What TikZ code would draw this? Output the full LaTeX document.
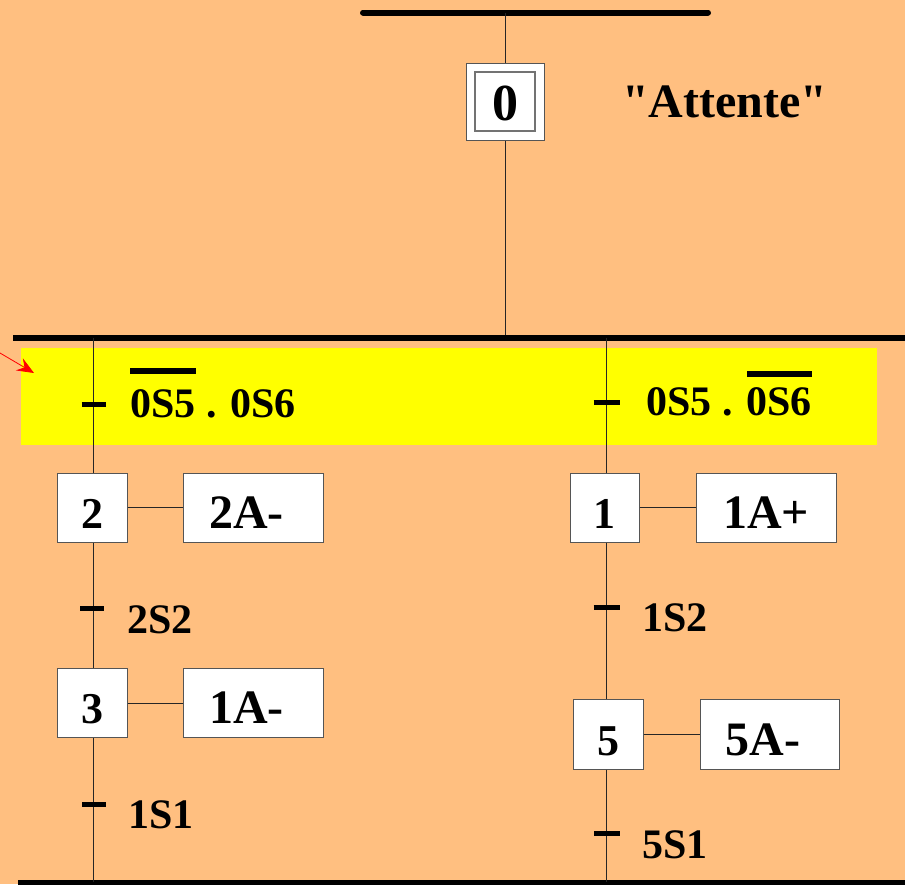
\documentclass[tikz,border=0pt]{standalone}
\usepackage{fontspec}
\setmainfont{Liberation Serif}
\usetikzlibrary{arrows.meta}
\definecolor{bg}{HTML}{FFBF80}
\definecolor{yel}{RGB}{255,255,0}
\definecolor{boxline}{HTML}{555555}
\newcommand\ovbar[2]{\setbox0\hbox{#2}\rlap{\raisebox{#1}{\rule{\wd0}{6pt}}}\box0\relax}
\newcommand\dq{\XeTeXglyph\XeTeXcharglyph"22\relax}
\tikzset{
  stepbox/.style={draw=boxline, fill=white, line width=1pt, inner sep=0pt,
    minimum width=70pt, minimum height=69pt, text height=55pt, text depth=14pt,
    font=\fontsize{44}{48}\selectfont\bfseries},
  actbox/.style={stepbox, minimum width=140pt, font=\fontsize{48}{52}\selectfont\bfseries},
  cond/.style={anchor=base west, inner sep=0pt, font=\fontsize{42}{46}\selectfont\bfseries},
  tickmark/.style={line width=5pt},
  thickbar/.style={line width=6pt},
  link/.style={line width=1pt, draw=black!85},
}
\begin{document}
\begin{tikzpicture}[x=1pt,y=-1pt]
\useasboundingbox (0,0) rectangle (905,884);
\fill[bg] (0,0) rectangle (905,884);
\fill[yel] (21,348) rectangle (877,445);

% bars
\coordinate (tb1) at (363,12.5);
\coordinate (tb2) at (708,12.5);
\coordinate (tbc) at (505,12.5);
\coordinate (mb1) at (13,337.5);
\coordinate (mb2) at (905,337.5);
\coordinate (c0) at (505,337.5);
\coordinate (bb1) at (18,882);
\coordinate (bb2) at (905,882);
\coordinate (lt) at (93,337.5);
\coordinate (lb) at (93,882);
\coordinate (rt) at (606,337.5);
\coordinate (rb) at (606,882);

% step 0
\node[stepbox, minimum width=78pt, minimum height=77pt, text height=0pt, text depth=0pt] (s0) at (505,101.5) {};
\node[stepbox, draw=black!55, line width=1.2pt, minimum width=60pt, minimum height=59pt,
  text height=48pt, text depth=11pt, font=\fontsize{52}{56}\selectfont\bfseries] (s0i) at (505,101.5) {0};
\node[anchor=base west, inner sep=0pt, font=\fontsize{48}{52}\selectfont\bfseries] (att) at (622,117) {\dq Attente\dq};

% left branch
\node[stepbox] (s2) at (92,507.5) {2};
\node[actbox] (a2) at (253,507.5) {2A-\kern13pt};
\node[stepbox] (s3) at (92,703) {3};
\node[actbox] (a3) at (253,703) {1A-\kern13pt};

% right branch
\node[stepbox, minimum width=69pt] (s1) at (604.5,507.5) {1};
\node[actbox] (a1) at (766,507.5) {1A+};
\node[stepbox, minimum height=70pt, text height=56pt] (s5) at (608,734) {5};
\node[actbox, minimum width=139pt, minimum height=70pt, text height=56pt] (a5) at (769.5,734) {5A-\kern13pt};

% connectors
\draw[thickbar, line cap=round] (tb1) -- (tb2);
\draw[link] (tbc) -- (s0);
\draw[link] (s0) -- (c0);
\draw[thickbar] (mb1) -- (mb2);
\draw[line width=5pt] (bb1) -- (bb2);

\draw[link] (lt) -- (lt |- s2.north);
\draw[link] (lt |- s2.south) -- (lt |- s3.north);
\draw[link] (lt |- s3.south) -- (lb);
\draw[link] (s2) -- (a2);
\draw[link] (s3) -- (a3);

\draw[link] (rt) -- (rt |- s1.north);
\draw[link] (rt |- s1.south) -- (rt |- s5.north);
\draw[link] (rt |- s5.south) -- (rb);
\draw[link] (s1) -- (a1);
\draw[link] (s5) -- (a5);

% transitions
\coordinate (t1) at (93.5,404);
\coordinate (t2) at (92,608);
\coordinate (t3) at (94,804);
\coordinate (t4) at (606.5,402);
\coordinate (t5) at (606.5,607);
\coordinate (t6) at (607,833);
\foreach \t in {t1,t2,t3}{\draw[tickmark] ([xshift=-12pt]\t) -- ([xshift=12pt]\t);}
\foreach \t in {t4,t5,t6}{\draw[tickmark] ([xshift=-13pt]\t) -- ([xshift=13pt]\t);}

\node[cond] (r1) at (130,417) {\ovbar{43pt}{0S5} . 0S6};
\node[cond] (r2) at (127,633) {2S2};
\node[cond] (r3) at (128,828) {1S1};
\node[cond] (r4) at (646,415) {0S5 . \ovbar{38pt}{0S6}};
\node[cond] (r5) at (642,631) {1S2};
\node[cond] (r6) at (642,858) {5S1};

% red arrow
\coordinate (ra1) at (0,353);
\coordinate (ra2) at (34,373);
\draw[red, line width=0.8pt, -{Stealth[length=17pt,width=14pt,inset=6pt]}] (ra1) -- (ra2);
\end{tikzpicture}
\end{document}
